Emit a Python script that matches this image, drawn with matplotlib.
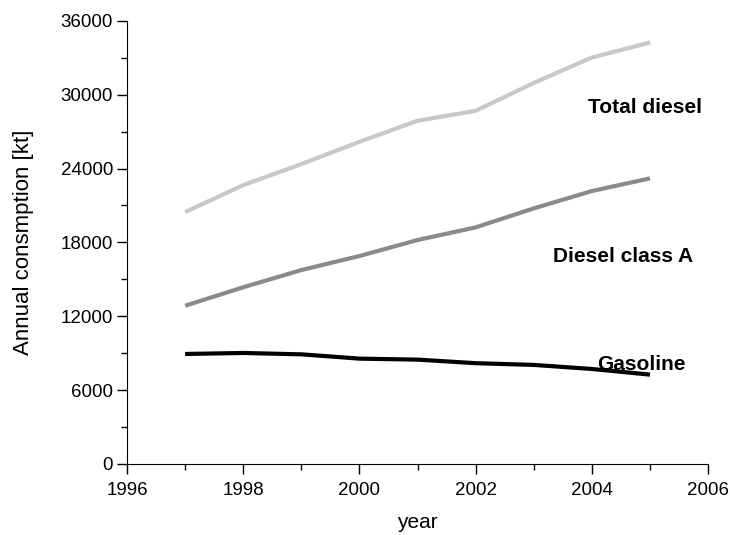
import matplotlib
matplotlib.use("Agg")
import matplotlib.pyplot as plt
from matplotlib.ticker import MultipleLocator

plt.rcParams['font.family'] = ['Liberation Sans', 'DejaVu Sans']

years = [1997, 1998, 1999, 2000, 2001, 2002, 2003, 2004, 2005]
total_diesel = [20460, 22650, 24360, 26170, 27880, 28690, 30960, 33020, 34240]
diesel_a = [12850, 14350, 15750, 16890, 18190, 19220, 20760, 22170, 23200]
gasoline = [8930, 9010, 8900, 8550, 8470, 8180, 8040, 7710, 7250]

fig = plt.figure(figsize=(7.3, 5.35), dpi=100)
ax = fig.add_axes([0.174, 0.133, 0.796, 0.828])

ax.plot(years, total_diesel, color='#c8c8c8', lw=3.0, solid_capstyle='butt')
ax.plot(years, diesel_a, color='#8a8a8a', lw=3.0, solid_capstyle='butt')
ax.plot(years, gasoline, color='#000000', lw=3.0, solid_capstyle='butt')

ax.set_xlim(1996, 2006)
ax.set_ylim(0, 36000)
ax.xaxis.set_major_locator(MultipleLocator(2))
ax.xaxis.set_minor_locator(MultipleLocator(1))
ax.yaxis.set_major_locator(MultipleLocator(6000))
ax.yaxis.set_minor_locator(MultipleLocator(3000))
for s in ['top', 'right']:
    ax.spines[s].set_visible(False)
ax.tick_params(which='both', direction='out', labelsize=13.5, width=1)
ax.tick_params(which='major', length=7)
ax.tick_params(which='minor', length=4)
ax.tick_params(axis='x', which='major', pad=6)
ax.tick_params(axis='y', which='major', pad=3)

ax.set_xlabel('year', fontsize=15, labelpad=10)
ax.set_ylabel('Annual consmption [kt]', fontsize=16, labelpad=19)

ax.text(2004.92, 28990, 'Total diesel', fontsize=15, fontweight='bold', va='center', ha='center')
ax.text(2004.54, 16890, 'Diesel class A', fontsize=15, fontweight='bold', va='center', ha='center')
ax.text(2004.85, 8040, 'Gasoline', fontsize=15, fontweight='bold', va='center', ha='center')

fig.savefig('out.png', dpi=100)
